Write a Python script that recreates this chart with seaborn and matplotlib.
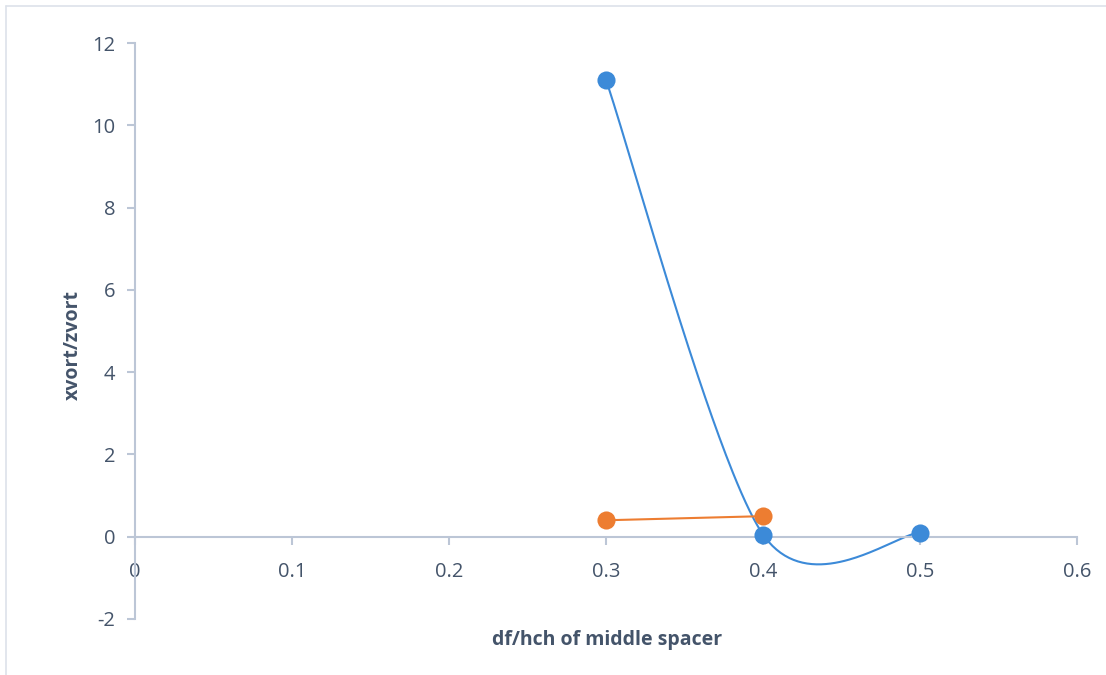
import numpy as np
import pandas as pd
import matplotlib
matplotlib.use("Agg")
import matplotlib.pyplot as plt
from matplotlib.lines import Line2D
import seaborn as sns

# Data
blue_x = [0.3, 0.4, 0.5]
blue_y = [11.1, 0.05, 0.1]
orange_x = [0.3, 0.4]
orange_y = [0.4, 0.5]

x_ticks = [0, 0.1, 0.2, 0.3, 0.4, 0.5, 0.6]
y_ticks = [-2, 0, 2, 4, 6, 8, 10, 12]

BLUE = "#3C8AD8"
ORANGE = "#ED7D31"
TEXT = "#44546A"
AXIS = "#BCC6D6"


def smooth_curve(xs, ys, n=80, k=0.15):
    # Excel-style smoothed line: cubic Bezier segments with Catmull-Rom-like control points
    pts = np.column_stack([xs, ys]).astype(float)
    out = []
    for i in range(len(pts) - 1):
        p0 = pts[max(i - 1, 0)]
        p1 = pts[i]
        p2 = pts[i + 1]
        p3 = pts[min(i + 2, len(pts) - 1)]
        c1 = p1 + (p2 - p0) * k
        c2 = p2 - (p3 - p1) * k
        t = np.linspace(0, 1, n)[:, None]
        seg = ((1 - t) ** 3) * p1 + 3 * ((1 - t) ** 2) * t * c1 + 3 * (1 - t) * t ** 2 * c2 + t ** 3 * p2
        out.append(seg if i == 0 else seg[1:])
    out = np.vstack(out)
    return pd.DataFrame({"x": out[:, 0], "y": out[:, 1]})


sns.set_theme(style="white")
plt.rcParams["font.family"] = ["Open Sans", "DejaVu Sans"]

fig = plt.figure(figsize=(11.06, 6.75), dpi=100)
ax = fig.add_axes([0.122, 0.083, 0.852, 0.853])

blue_curve = smooth_curve(blue_x, blue_y)
orange_curve = smooth_curve(orange_x, orange_y)

sns.lineplot(data=blue_curve, x="x", y="y", sort=False, estimator=None,
             color=BLUE, linewidth=1.5, ax=ax)
sns.lineplot(data=orange_curve, x="x", y="y", sort=False, estimator=None,
             color=ORANGE, linewidth=1.5, ax=ax)

blue_df = pd.DataFrame({"x": blue_x, "y": blue_y})
orange_df = pd.DataFrame({"x": orange_x, "y": orange_y})
sns.scatterplot(data=blue_df, x="x", y="y", color=BLUE, s=170,
                edgecolor=BLUE, linewidth=0, ax=ax, zorder=5)
sns.scatterplot(data=orange_df, x="x", y="y", color=ORANGE, s=170,
                edgecolor=ORANGE, linewidth=0, ax=ax, zorder=5)

ax.set_xlim(0, 0.6)
ax.set_ylim(-2, 12)
ax.set_xticks(x_ticks)
ax.set_yticks(y_ticks)
ax.set_xticklabels([f"{v:g}" for v in x_ticks])
ax.set_yticklabels([f"{v:g}" for v in y_ticks])

for side in ["top", "right"]:
    ax.spines[side].set_visible(False)
ax.spines["bottom"].set_position(("data", 0))
ax.spines["left"].set_position(("data", 0))
for side in ["bottom", "left"]:
    ax.spines[side].set_color(AXIS)
    ax.spines[side].set_linewidth(1.5)

ax.tick_params(axis="both", which="major", direction="out", length=6,
               width=1.5, color=AXIS, labelcolor=TEXT, labelsize=14.5,
               bottom=True, left=True)
ax.tick_params(axis="x", pad=12)
ax.tick_params(axis="y", pad=8)

ax.set_xlabel("")
ax.set_ylabel("")
fig.text(0.549, 0.052, "df/hch of middle spacer", ha="center", va="center",
         fontsize=14, fontweight="bold", color=TEXT)
fig.text(0.066, 0.489, "xvort/zvort", ha="center", va="center", rotation=90,
         fontsize=14, fontweight="bold", color=TEXT)

# light outer chart frame (left and top edges visible)
fig.add_artist(Line2D([0.0055, 0.0055], [0.0, 0.991], transform=fig.transFigure,
                      color="#DDE2EA", linewidth=1.2))
fig.add_artist(Line2D([0.0055, 1.0], [0.991, 0.991], transform=fig.transFigure,
                      color="#DDE2EA", linewidth=1.2))

fig.savefig("out.png", dpi=100, facecolor="white")
